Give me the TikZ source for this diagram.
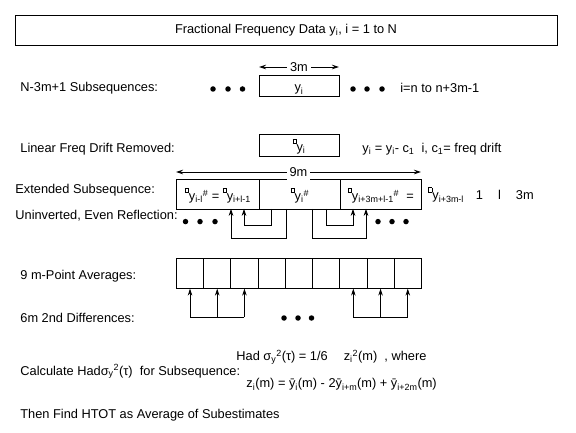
\documentclass[tikz,border=0pt]{standalone}
\usepackage{fontspec}
\setmainfont{Liberation Sans}
\usetikzlibrary{arrows.meta}

% small hollow mark printed before the drift-removed y
\newcommand{\hmark}{\raisebox{1.2ex}{\setlength{\fboxsep}{0pt}\setlength{\fboxrule}{0.5pt}\fbox{\rule{0pt}{4pt}\hspace{3pt}}}}
\newcommand{\dn}[1]{\textsubscript{#1}}
\newcommand{\up}[1]{\textsuperscript{#1}}

\begin{document}
\begin{tikzpicture}[x=1pt, y=-1pt, line width=0.8pt,
    font=\fontsize{12.8}{14}\selectfont,
    cellbox/.style={draw, anchor=north west, inner sep=0pt, text height=12pt, text depth=0pt},
    lbl/.style={anchor=west, inner sep=0pt},
    uparrow/.style={-{Stealth[length=7pt,width=4.5pt]}},
    dimarrow/.style={{Stealth[length=7pt,width=4.5pt]}-{Stealth[length=7pt,width=4.5pt]}},
    blob/.style={circle, fill, inner sep=0pt, minimum size=5.5pt}]
\useasboundingbox (0,0) rectangle (576,433);

% data box
\node[draw, minimum width=542pt, minimum height=30pt] (data) at (286,30) {Fractional Frequency Data y\dn{i}, i = 1 to N};

% subsequences
\node[lbl] (subs) at (20,88) {N-3m+1 Subsequences:};
\node[draw, minimum width=80pt, minimum height=21pt, text height=13pt, text depth=0pt] (yi) at (299,85.5) {y\dn{i}};
\coordinate (w3l) at (259,67);
\coordinate (w3r) at (339,67);
\draw[dimarrow] (w3l) -- node[fill=white, inner sep=3pt] {3m} (w3r);
\foreach \x in {213,228,242.5,353,367,382}
    \node[blob] at (\x,89) {};
\node[lbl] (range) at (400,88) {i=n to n+3m-1};

% drift removed
\node[lbl] (drift) at (20,149) {Linear Freq Drift Removed:};
\node[draw, minimum width=80pt, minimum height=22pt, text height=13pt, text depth=0pt] (yo) at (299,145) {\hmark y\dn{i}};
\node[lbl] (rule) at (362,149) {y\dn{i} = y\dn{i}- c\dn{1}\ \ i, c\dn{1}= freq drift};

% extended subsequence
\node[lbl] (ext) at (15,190) {Extended Subsequence:};
\node[lbl] (refl) at (15,216) {Uninverted, Even Reflection:};
\node[cellbox, minimum width=83pt, minimum height=29.4pt] (e1) at (176,179.4) {\hmark y\dn{i-l}\up{\#} = \hmark y\dn{i+l-1}};
\node[cellbox, minimum width=81pt, minimum height=29.4pt] (e2) at (259,179.4) {\hmark y\dn{i}\up{\#}};
\node[cellbox, minimum width=81pt, minimum height=29.4pt] (e3) at (340,179.4) {\hmark y\dn{i+3m+l-1}\up{\#}\ \ =};
\node[lbl] (tail) at (428,195) {\hmark y\dn{i+3m-l}\hspace{12pt}1\hspace{15pt}l\hspace{15pt}3m};
\coordinate (w9l) at (176,172);
\coordinate (w9r) at (421,172);
\draw[dimarrow] (w9l) -- node[fill=white, inner sep=3pt] {9m} (w9r);
\foreach \x in {185.5,200,215,378,392,406}
    \node[blob] at (\x,221.6) {};
% reflection loops
\coordinate (r1) at (231,208.8);
\coordinate (r2) at (244,208.8);
\coordinate (r3) at (353,208.8);
\coordinate (r4) at (366,208.8);
\coordinate (s1) at (286,208.8);
\coordinate (s2) at (271,208.8);
\coordinate (s3) at (326,208.8);
\coordinate (s4) at (312,208.8);
\draw[uparrow] (s1) -- ++(0,29.2) -| (r1);
\draw[uparrow] (s2) -- ++(0,16.2) -| (r2);
\draw[uparrow] (s3) -- ++(0,16.2) -| (r3);
\draw[uparrow] (s4) -- ++(0,29.2) -| (r4);

% averages
\node[lbl] (avgs) at (20,275.7) {9 m-Point Averages:};
\foreach \k in {1,...,9}
    \node[cellbox, minimum width=27.22pt, minimum height=29.8pt] (a\k) at ({176+27.22*(\k-1)},258) {};
\node[lbl] (diffs) at (20,318) {6m 2nd Differences:};
\coordinate (d1) at (190,317);
\coordinate (d2) at (353,317);
\draw (d1) -- (a3.south |- d1);
\draw (d2) -- (a9.south |- d2);
\foreach \k in {1,2,3,7,8,9}
    \draw[uparrow] (a\k.south |- d1) -- (a\k.south);
\foreach \x in {284,298,311.5}
    \node[blob] at (\x,318) {};

% estimate
\node[lbl] (calc) at (20,371.7) {Calculate Hadσ\dn{y}\up{2}(τ)\ \ for Subsequence:};
\node[lbl] (had) at (236,357) {Had σ\dn{y}\up{2}(τ) = 1/6\hspace{16pt}z\dn{i}\up{2}(m)\ \ , where};
\node[lbl] (zdef) at (246,384.6) {z\dn{i}(m) = \={y}\dn{i}(m) - 2\={y}\dn{i+m}(m) + \={y}\dn{i+2m}(m)};
\node[lbl] (htot) at (20,415) {Then Find HTOT as Average of Subestimates};
\end{tikzpicture}
\end{document}
